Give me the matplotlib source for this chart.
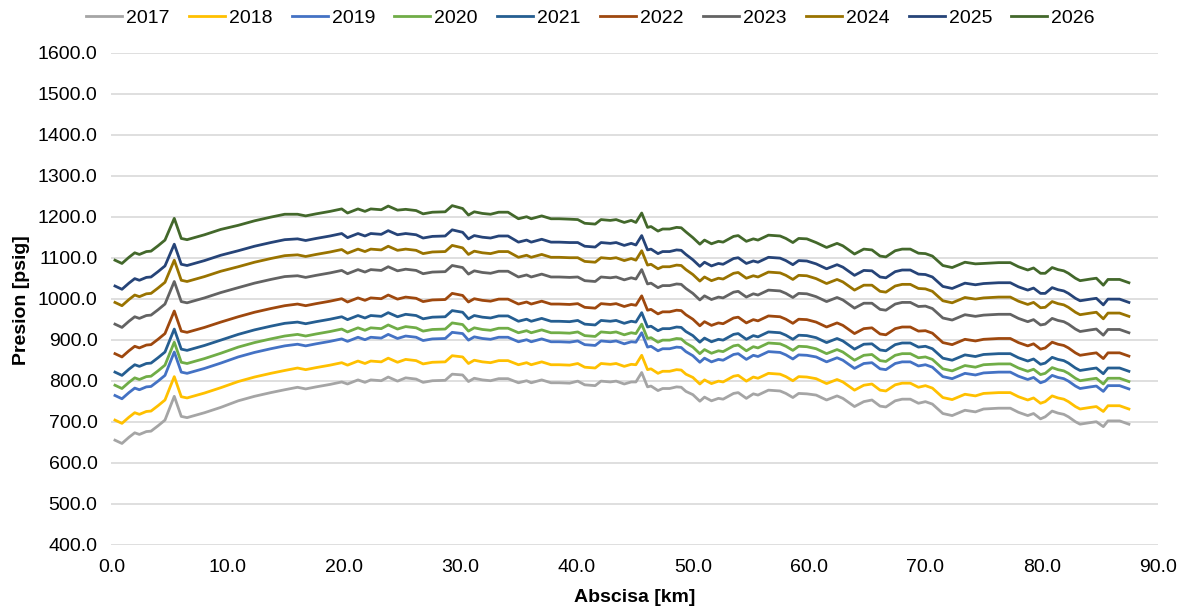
import matplotlib
matplotlib.use("Agg")
import matplotlib.pyplot as plt
from matplotlib.ticker import FormatStrFormatter, MultipleLocator

# abscisa [km]
km = [0.3, 0.9, 1.5, 2.0, 2.4, 3.0, 3.4, 4.0, 4.6,
      5.4, 6.0, 6.5, 8.0, 9.4,
      10.9, 12.3, 13.7, 14.9,
      16.0, 16.7, 17.6, 18.8, 19.8,
      20.3, 21.2, 21.8, 22.3, 23.2, 23.8, 24.6,
      25.3, 26.2, 26.8, 27.6, 28.7, 29.3,
      30.2, 30.7, 31.2, 31.9, 32.6, 33.3, 34.1,
      35.0, 35.7, 36.1, 37.0, 37.8, 38.5, 39.4,
      40.1, 40.7, 41.6, 42.1, 42.9, 43.4, 44.1, 44.7,
      45.1, 45.6, 46.1, 46.4, 47.0, 47.4, 48.0, 48.6, 49.0, 49.4,
      50.0, 50.6, 51.0, 51.6, 52.2, 52.6, 53.5, 53.9, 54.6,
      55.2, 55.6, 56.5, 57.5, 58.0, 58.6, 59.1, 59.8,
      60.6, 61.5, 62.4, 62.9, 63.9, 64.7,
      65.4, 66.1, 66.6, 67.4, 68.0, 68.7, 69.4,
      70.0, 70.6, 71.5, 72.3, 73.4, 74.3,
      75.0, 76.3, 77.3, 78.0, 78.8, 79.3, 79.9,
      80.3, 80.9, 81.4, 81.9, 82.3, 82.9, 83.3, 84.2, 84.7,
      85.3, 85.7, 86.7, 87.5]

# presion [psig] per year
p2017 = [655, 647, 662, 673, 669, 676, 677, 690, 704,
         762, 713, 710, 722, 735,
         751, 762, 771, 778,
         784, 780, 785, 791, 797,
         792, 802, 796, 802, 800, 809, 799,
         807, 804, 796, 800, 801, 816,
         814, 798, 806, 802, 800, 805, 805,
         795, 800, 795, 802, 795, 795, 794,
         799, 790, 788, 799, 797, 799, 792, 797,
         797, 820, 785, 787, 776, 781, 781, 785, 784, 774,
         766, 750, 760, 751, 757, 755, 769, 771, 757,
         768, 765, 777, 775, 769, 759, 769, 768,
         765, 753, 763, 757, 737, 749,
         753, 738, 736, 751, 755, 755, 745,
         749, 743, 720, 715, 728, 724,
         731, 733, 733, 723, 715, 720, 707,
         712, 726, 721, 718, 712, 700, 694, 698, 700,
         688, 702, 702, 694]

p2018 = [704, 696, 711, 722, 718, 725, 726, 739, 753,
         810, 761, 758, 770, 783,
         798, 809, 818, 825,
         831, 827, 832, 838, 844,
         838, 848, 842, 848, 846, 855, 845,
         852, 849, 841, 845, 846, 861,
         858, 842, 850, 846, 844, 849, 849,
         839, 844, 839, 846, 839, 839, 838,
         842, 833, 831, 842, 840, 842, 835, 840,
         839, 862, 827, 829, 818, 823, 823, 827, 826, 816,
         808, 792, 802, 793, 799, 797, 811, 813, 799,
         809, 806, 818, 816, 810, 800, 810, 809,
         805, 793, 803, 797, 777, 789,
         792, 777, 775, 790, 794, 794, 784,
         788, 782, 759, 754, 767, 763,
         769, 771, 771, 761, 753, 758, 745,
         749, 763, 758, 755, 749, 737, 731, 735, 737,
         725, 739, 739, 731]

p2019 = [764, 756, 771, 782, 778, 785, 786, 799, 813,
         870, 821, 818, 830, 843,
         858, 869, 878, 885,
         889, 885, 890, 896, 902,
         896, 906, 900, 906, 904, 913, 903,
         909, 906, 898, 902, 903, 918,
         915, 899, 907, 903, 901, 906, 906,
         895, 900, 895, 902, 895, 895, 894,
         897, 888, 886, 897, 895, 897, 890, 895,
         894, 917, 882, 884, 873, 878, 878, 882, 881, 871,
         861, 845, 855, 846, 852, 850, 864, 866, 852,
         862, 859, 871, 869, 863, 853, 863, 862,
         858, 846, 856, 850, 830, 842,
         844, 829, 827, 842, 846, 846, 836,
         839, 833, 810, 805, 818, 814,
         819, 821, 821, 811, 803, 808, 795,
         799, 813, 808, 805, 799, 787, 781, 785, 787,
         774, 788, 788, 780]

p2020 = [789, 781, 796, 807, 803, 810, 811, 824, 838,
         894, 845, 842, 854, 867,
         882, 893, 902, 909,
         913, 909, 914, 920, 926,
         919, 929, 923, 929, 927, 936, 926,
         932, 929, 921, 925, 926, 941,
         937, 921, 929, 925, 923, 928, 928,
         917, 922, 917, 924, 917, 917, 916,
         919, 910, 908, 919, 917, 919, 912, 917,
         915, 938, 903, 905, 894, 899, 899, 903, 902, 892,
         882, 866, 876, 867, 873, 871, 885, 887, 873,
         883, 880, 892, 890, 884, 874, 884, 883,
         878, 866, 876, 870, 850, 862,
         864, 849, 847, 862, 866, 866, 856,
         858, 852, 829, 824, 837, 833,
         839, 841, 841, 831, 823, 828, 815,
         818, 832, 827, 824, 818, 806, 800, 804, 806,
         792, 806, 806, 798]

p2021 = [821, 813, 828, 839, 835, 842, 843, 856, 870,
         926, 877, 874, 886, 899,
         913, 924, 933, 940,
         943, 939, 944, 950, 956,
         949, 959, 953, 959, 957, 966, 956,
         962, 959, 951, 955, 956, 971,
         967, 951, 959, 955, 953, 958, 958,
         945, 950, 945, 952, 945, 945, 944,
         947, 938, 936, 947, 945, 947, 940, 945,
         943, 966, 931, 933, 922, 927, 927, 931, 930, 920,
         910, 894, 904, 895, 901, 899, 913, 915, 901,
         910, 907, 919, 917, 911, 901, 911, 910,
         905, 893, 903, 897, 877, 889,
         890, 875, 873, 888, 892, 892, 882,
         884, 878, 855, 850, 863, 859,
         864, 866, 866, 856, 848, 853, 840,
         843, 857, 852, 849, 843, 831, 825, 829, 831,
         817, 831, 831, 823]

p2022 = [866, 858, 873, 884, 880, 887, 888, 901, 915,
         970, 921, 918, 930, 943,
         956, 967, 976, 983,
         987, 983, 988, 994, 1000,
         992, 1002, 996, 1002, 1000, 1009, 999,
         1004, 1001, 993, 997, 998, 1013,
         1008, 992, 1000, 996, 994, 999, 999,
         987, 992, 987, 994, 987, 987, 986,
         988, 979, 977, 988, 986, 988, 981, 986,
         984, 1007, 972, 974, 963, 968, 968, 972, 971, 961,
         950, 934, 944, 935, 941, 939, 953, 955, 941,
         949, 946, 958, 956, 950, 940, 950, 949,
         943, 931, 941, 935, 915, 927,
         929, 914, 912, 927, 931, 931, 921,
         922, 916, 893, 888, 901, 897,
         901, 903, 903, 893, 885, 890, 877,
         880, 894, 889, 886, 880, 868, 862, 866, 868,
         854, 868, 868, 860]

p2023 = [938, 930, 945, 956, 952, 959, 960, 973, 987,
         1042, 993, 990, 1002, 1015,
         1027, 1038, 1047, 1054,
         1056, 1052, 1057, 1063, 1069,
         1061, 1071, 1065, 1071, 1069, 1078, 1068,
         1072, 1069, 1061, 1065, 1066, 1081,
         1076, 1060, 1068, 1064, 1062, 1067, 1067,
         1053, 1058, 1053, 1060, 1053, 1053, 1052,
         1053, 1044, 1042, 1053, 1051, 1053, 1046, 1051,
         1048, 1071, 1036, 1038, 1027, 1032, 1032, 1036, 1035, 1025,
         1013, 997, 1007, 998, 1004, 1002, 1016, 1018, 1004,
         1012, 1009, 1021, 1019, 1013, 1003, 1013, 1012,
         1005, 993, 1003, 997, 977, 989,
         989, 974, 972, 987, 991, 991, 981,
         982, 976, 953, 948, 961, 957,
         960, 962, 962, 952, 944, 949, 936,
         938, 952, 947, 944, 938, 926, 920, 924, 926,
         911, 925, 925, 917]

p2024 = [991, 983, 998, 1009, 1005, 1012, 1013, 1026, 1040,
         1094, 1045, 1042, 1054, 1067,
         1078, 1089, 1098, 1105,
         1107, 1103, 1108, 1114, 1120,
         1111, 1121, 1115, 1121, 1119, 1128, 1118,
         1121, 1118, 1110, 1114, 1115, 1130,
         1124, 1108, 1116, 1112, 1110, 1115, 1115,
         1101, 1106, 1101, 1108, 1101, 1101, 1100,
         1100, 1091, 1089, 1100, 1098, 1100, 1093, 1098,
         1094, 1117, 1082, 1084, 1073, 1078, 1078, 1082, 1081, 1071,
         1059, 1043, 1053, 1044, 1050, 1048, 1062, 1064, 1050,
         1056, 1053, 1065, 1063, 1057, 1047, 1057, 1056,
         1049, 1037, 1047, 1041, 1021, 1033,
         1033, 1018, 1016, 1031, 1035, 1035, 1025,
         1024, 1018, 995, 990, 1003, 999,
         1002, 1004, 1004, 994, 986, 991, 978,
         979, 993, 988, 985, 979, 967, 961, 965, 967,
         951, 965, 965, 957]

p2025 = [1031, 1023, 1038, 1049, 1045, 1052, 1053, 1066, 1080,
         1133, 1084, 1081, 1093, 1106,
         1117, 1128, 1137, 1144,
         1146, 1142, 1147, 1153, 1159,
         1149, 1159, 1153, 1159, 1157, 1166, 1156,
         1159, 1156, 1148, 1152, 1153, 1168,
         1162, 1146, 1154, 1150, 1148, 1153, 1153,
         1138, 1143, 1138, 1145, 1138, 1138, 1137,
         1137, 1128, 1126, 1137, 1135, 1137, 1130, 1135,
         1131, 1154, 1119, 1121, 1110, 1115, 1115, 1119, 1118, 1108,
         1095, 1079, 1089, 1080, 1086, 1084, 1098, 1100, 1086,
         1092, 1089, 1101, 1099, 1093, 1083, 1093, 1092,
         1085, 1073, 1083, 1077, 1057, 1069,
         1068, 1053, 1051, 1066, 1070, 1070, 1060,
         1059, 1053, 1030, 1025, 1038, 1034,
         1037, 1039, 1039, 1029, 1021, 1026, 1013,
         1013, 1027, 1022, 1019, 1013, 1001, 995, 999, 1001,
         985, 999, 999, 991]

p2026 = [1094, 1086, 1101, 1112, 1108, 1115, 1116, 1129, 1143,
         1196, 1147, 1144, 1156, 1169,
         1179, 1190, 1199, 1206,
         1206, 1202, 1207, 1213, 1219,
         1209, 1219, 1213, 1219, 1217, 1226, 1216,
         1218, 1215, 1207, 1211, 1212, 1227,
         1220, 1204, 1212, 1208, 1206, 1211, 1211,
         1195, 1200, 1195, 1202, 1195, 1195, 1194,
         1193, 1184, 1182, 1193, 1191, 1193, 1186, 1191,
         1186, 1209, 1174, 1176, 1165, 1170, 1170, 1174, 1173, 1163,
         1149, 1133, 1143, 1134, 1140, 1138, 1152, 1154, 1140,
         1146, 1143, 1155, 1153, 1147, 1137, 1147, 1146,
         1137, 1125, 1135, 1129, 1109, 1121,
         1119, 1104, 1102, 1117, 1121, 1121, 1111,
         1110, 1104, 1081, 1076, 1089, 1085,
         1086, 1088, 1088, 1078, 1070, 1075, 1062,
         1062, 1076, 1071, 1068, 1062, 1050, 1044, 1048, 1050,
         1033, 1047, 1047, 1039]

years = ["2017", "2018", "2019", "2020", "2021",
         "2022", "2023", "2024", "2025", "2026"]
series = [p2017, p2018, p2019, p2020, p2021,
          p2022, p2023, p2024, p2025, p2026]
colors = ["#A5A5A5", "#FFC000", "#4472C4", "#70AD47", "#255E91",
          "#9E480E", "#636363", "#997300", "#264478", "#43682B"]


def main():
    plt.rcParams["font.family"] = ["Liberation Sans", "DejaVu Sans"]
    plt.rcParams["font.size"] = 14

    fig = plt.figure(figsize=(11.81, 6.10), dpi=100)
    ax = fig.add_axes([0.0944, 0.107, 0.8861, 0.8066])

    for year, values, color in zip(years, series, colors):
        ax.plot(km, values, color=color, linewidth=2.0, label=year)

    ax.set_xlim(0, 90)
    ax.set_ylim(400, 1600)
    ax.xaxis.set_major_locator(MultipleLocator(10))
    ax.yaxis.set_major_locator(MultipleLocator(100))
    ax.xaxis.set_major_formatter(FormatStrFormatter("%.1f"))
    ax.yaxis.set_major_formatter(FormatStrFormatter("%.1f"))
    ax.tick_params(length=0, labelsize=14, colors="#000000")
    ax.tick_params(axis="x", pad=10)
    ax.tick_params(axis="y", pad=10)

    ax.grid(axis="y", color="#D9D9D9", linewidth=1.2)
    ax.set_axisbelow(True)
    for side in ["top", "right", "left", "bottom"]:
        ax.spines[side].set_visible(False)

    fig.text(22 / 1181, 1 - 300 / 610, "Presion [psig]", rotation=90,
             ha="center", va="center", fontsize=14, fontweight="bold")
    fig.text(634.8 / 1181, 1 - 598 / 610, "Abscisa [km]",
             ha="center", va="center", fontsize=14, fontweight="bold")

    fig.legend(loc="center", bbox_to_anchor=(0.5, 1 - 18 / 610), ncol=10,
               frameon=False, fontsize=14, handlelength=1.85,
               handletextpad=0.2, columnspacing=1.0)

    fig.savefig("out.png", dpi=100)


if __name__ == "__main__":
    main()
